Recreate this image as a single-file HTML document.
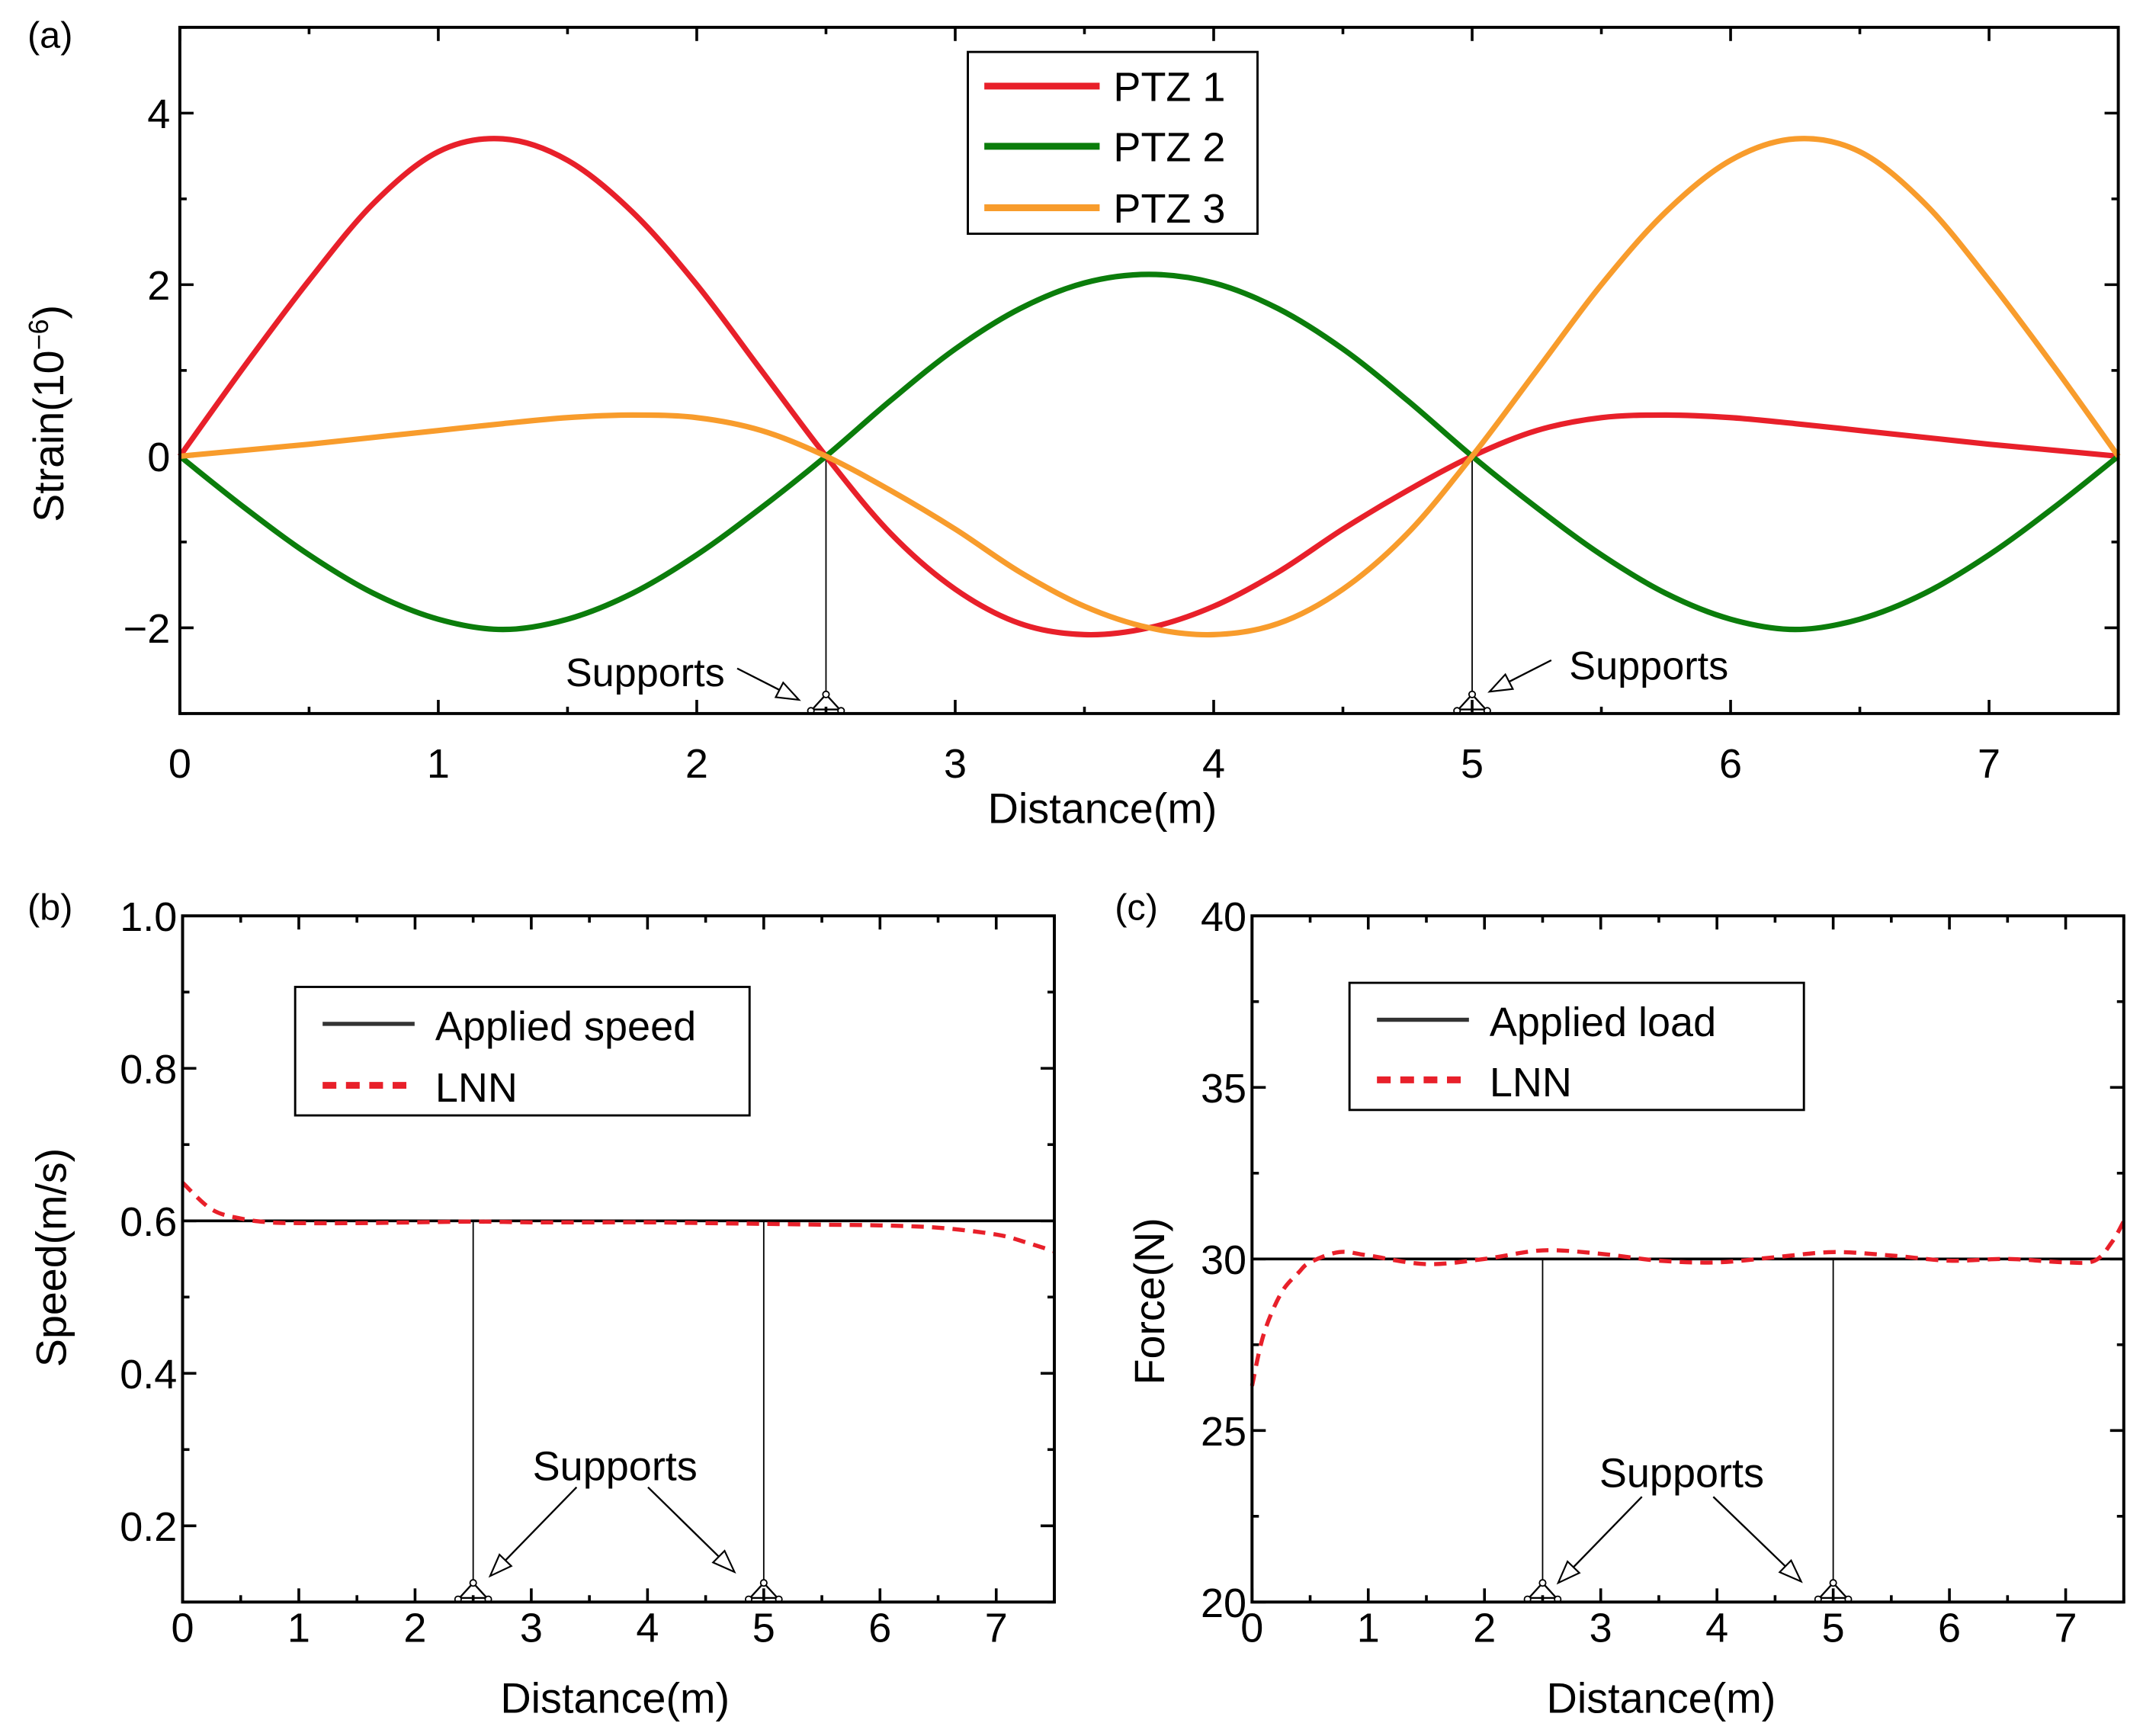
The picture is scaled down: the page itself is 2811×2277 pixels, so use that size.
<!DOCTYPE html>
<html><head><meta charset="utf-8"><style>
html,body{margin:0;padding:0;background:#fff;}
svg{display:block;font-family:"Liberation Sans",Arial,sans-serif;}
</style></head><body>
<svg id="fig" width="2811" height="2277" viewBox="0 0 1561 1270" preserveAspectRatio="none"></svg>
<script>
// ---------- data ----------
const xStrain = [0,0.25,0.5,0.75,1,1.25,1.5,1.75,2,2.25,2.5,2.75,3,3.25,3.5,3.75,4,4.25,4.5,4.75,5,5.25,5.5,5.75,6,6.25,6.5,6.75,7,7.25,7.5];
const ptz1 = [0,1.05,2.05,2.95,3.55,3.7,3.45,2.85,2.0,1.0,0,-0.9,-1.55,-1.95,-2.08,-2.0,-1.75,-1.35,-0.85,-0.4,0,0.3,0.45,0.48,0.45,0.38,0.3,0.22,0.14,0.07,0];
const ptz2 = [0,-0.6,-1.15,-1.6,-1.9,-2.02,-1.9,-1.6,-1.15,-0.6,0,0.65,1.25,1.72,2.02,2.12,2.02,1.72,1.25,0.65,0,-0.6,-1.15,-1.6,-1.9,-2.02,-1.9,-1.6,-1.15,-0.6,0];
const ptz3 = [0,0.07,0.14,0.22,0.3,0.38,0.45,0.48,0.45,0.3,0,-0.4,-0.85,-1.35,-1.75,-2.0,-2.08,-1.95,-1.55,-0.9,0,1.0,2.0,2.85,3.45,3.7,3.55,2.95,2.05,1.05,0];
const xLnnSpeed = [0,0.25,0.5,0.75,1,1.5,2,2.5,3,3.5,4,4.5,5,5.5,6,6.5,7,7.25,7.5];
const lnnSpeed = [0.65,0.615,0.603,0.598,0.597,0.597,0.598,0.599,0.598,0.598,0.598,0.597,0.596,0.595,0.594,0.591,0.582,0.572,0.56];
const appliedSpeed = 0.6;
const xLnnForce = [0,0.1,0.25,0.4,0.5,0.75,1,1.5,2,2.5,3,3.5,4,4.5,5,5.5,6,6.5,7,7.25,7.4,7.5];
const lnnForce = [26.3,27.8,29.0,29.6,29.9,30.2,30.1,29.85,30.0,30.25,30.15,29.95,29.9,30.05,30.2,30.1,29.95,30.0,29.9,29.95,30.5,31.1];
const appliedLoad = 30;
const supports = [2.5,5];
const xTicksA = [0,1,2,3,4,5,6,7];
const yTicksA = [-2,0,2,4];
const xTicksBC = [0,1,2,3,4,5,6,7];
const yTicksB = [0.2,0.4,0.6,0.8,1.0];
const yTicksC = [20,25,30,35,40];

const NS="http://www.w3.org/2000/svg";
const svg=document.getElementById('fig');
function el(tag,attrs,parent){const e=document.createElementNS(NS,tag);for(const k in attrs)e.setAttribute(k,attrs[k]);(parent||svg).appendChild(e);return e;}
function txt(s,x,y,size,anchor,parent,rot){const t=el('text',{x:x,y:y,'font-size':size,'text-anchor':anchor||'middle',fill:'#000'},parent);if(rot)t.setAttribute('transform','rotate(-90 '+x+' '+y+')');t.textContent=s;return t;}
function smooth(pts){let d='M'+pts[0][0]+','+pts[0][1];for(let i=0;i<pts.length-1;i++){const p0=pts[Math.max(0,i-1)],p1=pts[i],p2=pts[i+1],p3=pts[Math.min(pts.length-1,i+2)];const c1=[p1[0]+(p2[0]-p0[0])/6,p1[1]+(p2[1]-p0[1])/6],c2=[p2[0]-(p3[0]-p1[0])/6,p2[1]-(p3[1]-p1[1])/6];d+=' C'+c1[0]+','+c1[1]+' '+c2[0]+','+c2[1]+' '+p2[0]+','+p2[1];}return d;}
function makeAxes(L,R,T,B,x0,x1,y0,y1){return {sx:v=>L+(v-x0)/(x1-x0)*(R-L),sy:v=>B-(v-y0)/(y1-y0)*(B-T),L,R,T,B};}
function frame(a,g){el('rect',{x:a.L,y:a.T,width:a.R-a.L,height:a.B-a.T,fill:'none',stroke:'#000','stroke-width':2.2},g);}
function support(a,xv,g){
  const x=a.sx(xv),b=a.B;
  const s=el('g',{},g);
  
  
  el('path',{d:`M${x},${b-14} L${x-10},${b-3} L${x+10},${b-3} Z`,fill:'none',stroke:'#000','stroke-width':1.3},s);
  [[x,b-14],[x-11,b-2],[x+11,b-2]].forEach(p=>el('circle',{cx:p[0],cy:p[1],r:2.3,fill:'#fff',stroke:'#000','stroke-width':1},s));
}
function arrow(x1,y1,x2,y2,g){
  const s=el('g',{},g);
  
  
  const dx=x2-x1,dy=y2-y1,l=Math.hypot(dx,dy),ux=dx/l,uy=dy/l,h=16,w=6;
  const bx=x2-ux*h,by=y2-uy*h;
  el('line',{x1:x1,y1:y1,x2:bx,y2:by,stroke:'#000','stroke-width':1.3},s);
  el('path',{d:`M${x2},${y2} L${bx-uy*w},${by+ux*w} L${bx+uy*w},${by-ux*w} Z`,fill:'#fff',stroke:'#000','stroke-width':1.2},s);
}

// ---------- panel (a) ----------
const gA=el('g',{});


const A=makeAxes(131,1543,20,522,0,7.5,-3,5);
txt('(a)',20,35,27,'start',gA);
xTicksA.forEach(v=>{el('line',{x1:A.sx(v),x2:A.sx(v),y1:A.B,y2:A.B-10,stroke:'#000','stroke-width':2},gA);el('line',{x1:A.sx(v),x2:A.sx(v),y1:A.T,y2:A.T+10,stroke:'#000','stroke-width':2},gA);txt(String(v),A.sx(v),569,30,'middle',gA);});
for(let v=0.5;v<7.5;v+=1){el('line',{x1:A.sx(v),x2:A.sx(v),y1:A.B,y2:A.B-5,stroke:'#000','stroke-width':2},gA);el('line',{x1:A.sx(v),x2:A.sx(v),y1:A.T,y2:A.T+5,stroke:'#000','stroke-width':2},gA);}
for(let v=-3;v<=5;v++){const big=yTicksA.includes(v);const len=big?10:5;el('line',{x1:A.L,x2:A.L+len,y1:A.sy(v),y2:A.sy(v),stroke:'#000','stroke-width':2},gA);el('line',{x1:A.R,x2:A.R-len,y1:A.sy(v),y2:A.sy(v),stroke:'#000','stroke-width':2},gA);}
yTicksA.forEach(v=>txt(v<0?'\u2212'+Math.abs(v):String(v),124,A.sy(v)+11,30,'end',gA));
const yTitleA=txt('Strain(10',46,382,31,'start',gA,true);
const sup=el('tspan',{dy:-11,'font-size':20},yTitleA);sup.textContent='\u22126';
const cl=el('tspan',{dy:11},yTitleA);cl.textContent=')';


const xTitleA=txt('Distance(m)',803,602,31,'middle',gA);


supports.forEach(s=>{el('line',{x1:A.sx(s),x2:A.sx(s),y1:A.sy(0),y2:A.B-14,stroke:'#000','stroke-width':1},gA);support(A,s,gA);});
[[ptz1,'#e8202a','series-ptz1'],[ptz2,'#0b7d0b','series-ptz2'],[ptz3,'#f89c2c','series-ptz3']].forEach(s=>{
  const p=el('path',{d:smooth(xStrain.map((x,i)=>[A.sx(x),A.sy(s[0][i])])),fill:'none',stroke:s[1],'stroke-width':4},gA);
  
  
});
txt('Supports',528,502,29,'end',gA);
arrow(537,489,582,512,gA);
txt('Supports',1143,497,29,'start',gA);
arrow(1130,483,1085,506,gA);
frame(A,gA);
const lgA=el('g',{},gA);


el('rect',{x:705,y:38,width:211,height:133,fill:'#fff',stroke:'#000','stroke-width':1.6},lgA);
[['PTZ 1','#e8202a',63],['PTZ 2','#0b7d0b',107],['PTZ 3','#f89c2c',152]].forEach(e=>{
  const g=el('g',{},lgA);
  
  
  el('line',{x1:717,x2:801,y1:e[2],y2:e[2],stroke:e[1],'stroke-width':5},g);
  txt(e[0],811,e[2]+11,30,'start',g);
});

// ---------- panel (b) ----------
const gB=el('g',{});


const B=makeAxes(133,768,670,1172,0,7.5,0.1,1.0);
txt('(b)',20,673,27,'start',gB);
xTicksBC.forEach(v=>{txt(String(v),B.sx(v),1201,30,'middle',gB);});
for(let v=0;v<=7.5;v+=0.5){const len=Number.isInteger(v)?10:5;el('line',{x1:B.sx(v),x2:B.sx(v),y1:B.B,y2:B.B-len,stroke:'#000','stroke-width':2},gB);el('line',{x1:B.sx(v),x2:B.sx(v),y1:B.T,y2:B.T+len,stroke:'#000','stroke-width':2},gB);}
for(let i=1;i<=9;i++){const v=i/10;const len=(i%2==0)?10:5;el('line',{x1:B.L,x2:B.L+len,y1:B.sy(v),y2:B.sy(v),stroke:'#000','stroke-width':2},gB);el('line',{x1:B.R,x2:B.R-len,y1:B.sy(v),y2:B.sy(v),stroke:'#000','stroke-width':2},gB);}
yTicksB.forEach(v=>txt(v.toFixed(1),129,B.sy(v)+11,30,'end',gB));
txt('Speed(m/s)',48,920,31,'middle',gB,true);
txt('Distance(m)',448,1253,31,'middle',gB);
supports.forEach(s=>{el('line',{x1:B.sx(s),x2:B.sx(s),y1:B.sy(appliedSpeed),y2:B.B-14,stroke:'#000','stroke-width':1},gB);support(B,s,gB);});
const apB=el('line',{x1:B.L,x2:B.R,y1:B.sy(appliedSpeed),y2:B.sy(appliedSpeed),stroke:'#000','stroke-width':2},gB);


const lnB=el('path',{d:smooth(xLnnSpeed.map((x,i)=>[B.sx(x),B.sy(lnnSpeed[i])])),fill:'none',stroke:'#e8202a','stroke-width':3,'stroke-dasharray':'9,6'},gB);


txt('Supports',448,1083,30,'middle',gB);
arrow(420,1088,357,1153,gB);
arrow(472,1088,535,1150,gB);
frame(B,gB);
const lgB=el('g',{},gB);


el('rect',{x:215,y:722,width:331,height:94,fill:'#fff',stroke:'#000','stroke-width':1.6},lgB);
let g1=el('g',{},lgB);


el('line',{x1:235,x2:302,y1:749,y2:749,stroke:'#333','stroke-width':3},g1);txt('Applied speed',317,761,30,'start',g1);
let g2=el('g',{},lgB);


el('line',{x1:235,x2:302,y1:794,y2:794,stroke:'#e8202a','stroke-width':5,'stroke-dasharray':'10,7'},g2);txt('LNN',317,806,30,'start',g2);

// ---------- panel (c) ----------
const gC=el('g',{});


const C=makeAxes(912,1547,670,1172,0,7.5,20,40);
txt('(c)',812,673,27,'start',gC);
xTicksBC.forEach(v=>{txt(String(v),C.sx(v),1201,30,'middle',gC);});
for(let v=0;v<=7.5;v+=0.5){const len=Number.isInteger(v)?10:5;el('line',{x1:C.sx(v),x2:C.sx(v),y1:C.B,y2:C.B-len,stroke:'#000','stroke-width':2},gC);el('line',{x1:C.sx(v),x2:C.sx(v),y1:C.T,y2:C.T+len,stroke:'#000','stroke-width':2},gC);}
for(let v=20;v<=40;v+=2.5){const len=(v%5==0)?10:5;el('line',{x1:C.L,x2:C.L+len,y1:C.sy(v),y2:C.sy(v),stroke:'#000','stroke-width':2},gC);el('line',{x1:C.R,x2:C.R-len,y1:C.sy(v),y2:C.sy(v),stroke:'#000','stroke-width':2},gC);}
yTicksC.forEach(v=>txt(String(v),908,C.sy(v)+11,30,'end',gC));
txt('Force(N)',848,952,31,'middle',gC,true);
txt('Distance(m)',1210,1253,31,'middle',gC);
supports.forEach(s=>{el('line',{x1:C.sx(s),x2:C.sx(s),y1:C.sy(appliedLoad),y2:C.B-14,stroke:'#000','stroke-width':1},gC);support(C,s,gC);});
const apC=el('line',{x1:C.L,x2:C.R,y1:C.sy(appliedLoad),y2:C.sy(appliedLoad),stroke:'#000','stroke-width':2},gC);


const lnC=el('path',{d:smooth(xLnnForce.map((x,i)=>[C.sx(x),C.sy(lnnForce[i])])),fill:'none',stroke:'#e8202a','stroke-width':3,'stroke-dasharray':'9,6'},gC);


txt('Supports',1225,1088,30,'middle',gC);
arrow(1196,1095,1135,1158,gC);
arrow(1248,1095,1312,1157,gC);
frame(C,gC);
const lgC=el('g',{},gC);


el('rect',{x:983,y:719,width:331,height:93,fill:'#fff',stroke:'#000','stroke-width':1.6},lgC);
let g3=el('g',{},lgC);


el('line',{x1:1003,x2:1070,y1:746,y2:746,stroke:'#333','stroke-width':3},g3);txt('Applied load',1085,758,30,'start',g3);
let g4=el('g',{},lgC);


el('line',{x1:1003,x2:1070,y1:790,y2:790,stroke:'#e8202a','stroke-width':5,'stroke-dasharray':'10,7'},g4);txt('LNN',1085,802,30,'start',g4);
</script>
</body></html>
